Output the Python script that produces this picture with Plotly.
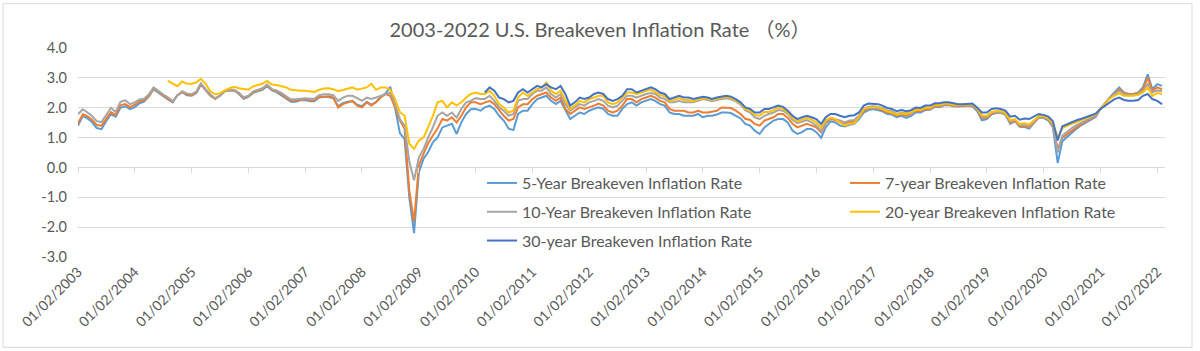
import pandas as pd
import plotly.graph_objects as go

# ---------------- data (monthly readings, first trading days of each month) ----------------
start_month = "2003-01-01"
n_months = 230
dates = pd.date_range(start_month, periods=n_months, freq="MS") + pd.Timedelta(days=1)

series_names = [
    "5-Year Breakeven Inflation Rate",
    "7-year Breakeven Inflation Rate",
    "10-Year Breakeven Inflation Rate",
    "20-year Breakeven Inflation Rate",
    "30-year Breakeven Inflation Rate",
]

be5 = [
    1.40, 1.72, 1.65, 1.52, 1.32, 1.28, 1.55, 1.78, 1.70, 2.00, 2.05, 1.95,   # 2003
    2.02, 2.15, 2.20, 2.38, 2.62, 2.50, 2.40, 2.28, 2.18, 2.42, 2.52, 2.42,   # 2004
    2.40, 2.50, 2.78, 2.58, 2.40, 2.30, 2.40, 2.55, 2.58, 2.58, 2.46, 2.30,   # 2005
    2.36, 2.50, 2.56, 2.60, 2.72, 2.58, 2.52, 2.42, 2.30, 2.20, 2.20, 2.25,   # 2006
    2.26, 2.22, 2.22, 2.34, 2.36, 2.36, 2.32, 2.05, 2.15, 2.20, 2.22, 2.10,   # 2007
    2.05, 2.20, 2.10, 2.20, 2.36, 2.48, 2.70, 2.00, 1.15, 0.95, -1.03, -2.20, # 2008
    -0.16, 0.30, 0.51, 0.84, 1.00, 1.34, 1.40, 1.46, 1.12, 1.51, 1.79, 1.95,  # 2009
    1.96, 1.90, 2.01, 2.07, 1.96, 1.73, 1.57, 1.30, 1.25, 1.79, 1.90, 1.90,   # 2010
    2.12, 2.29, 2.34, 2.40, 2.23, 2.12, 2.23, 1.90, 1.62, 1.73, 1.84, 1.79,   # 2011
    1.90, 1.96, 2.01, 1.96, 1.79, 1.73, 1.73, 1.96, 2.12, 2.18, 2.07, 2.18,   # 2012
    2.23, 2.29, 2.23, 2.12, 2.07, 1.84, 1.79, 1.79, 1.73, 1.73, 1.73, 1.79,   # 2013
    1.68, 1.73, 1.73, 1.77, 1.84, 1.84, 1.82, 1.73, 1.64, 1.46, 1.40, 1.23,   # 2014
    1.12, 1.34, 1.46, 1.57, 1.62, 1.62, 1.51, 1.23, 1.12, 1.18, 1.29, 1.29,   # 2015
    1.18, 0.99, 1.34, 1.54, 1.51, 1.40, 1.37, 1.43, 1.46, 1.62, 1.84, 1.92,   # 2016
    1.96, 1.92, 1.88, 1.79, 1.77, 1.68, 1.73, 1.66, 1.73, 1.84, 1.84, 1.92,   # 2017
    1.93, 2.03, 2.02, 2.08, 2.09, 2.05, 2.04, 2.05, 2.07, 2.05, 1.88, 1.58,   # 2018
    1.62, 1.78, 1.82, 1.84, 1.76, 1.46, 1.55, 1.36, 1.35, 1.30, 1.49, 1.66,   # 2019
    1.66, 1.57, 1.35, 0.15, 0.88, 1.02, 1.18, 1.30, 1.42, 1.51, 1.60, 1.69,   # 2020
    1.96, 2.18, 2.34, 2.51, 2.68, 2.51, 2.46, 2.46, 2.51, 2.68, 3.12, 2.62,   # 2021
    2.79, 2.73,                                                               # 2022
]

be7 = [
    1.48, 1.78, 1.72, 1.60, 1.42, 1.40, 1.62, 1.85, 1.75, 2.08, 2.12, 2.02,
    2.10, 2.22, 2.25, 2.40, 2.65, 2.52, 2.42, 2.30, 2.20, 2.42, 2.52, 2.45,
    2.42, 2.52, 2.80, 2.60, 2.42, 2.30, 2.40, 2.55, 2.58, 2.58, 2.48, 2.32,
    2.38, 2.52, 2.58, 2.62, 2.75, 2.60, 2.55, 2.46, 2.33, 2.24, 2.24, 2.27,
    2.28, 2.25, 2.25, 2.36, 2.38, 2.38, 2.34, 2.01, 2.12, 2.18, 2.23, 2.07,
    2.01, 2.18, 2.07, 2.18, 2.34, 2.46, 2.40, 2.01, 1.57, 1.30, -0.80, -1.82,
    0.07, 0.47, 0.80, 1.07, 1.30, 1.62, 1.57, 1.68, 1.51, 1.73, 2.01, 2.18,
    2.18, 2.12, 2.18, 2.23, 2.12, 1.90, 1.73, 1.57, 1.62, 2.01, 2.12, 2.12,
    2.29, 2.40, 2.46, 2.51, 2.34, 2.23, 2.34, 1.96, 1.79, 1.90, 2.01, 1.96,
    2.01, 2.07, 2.14, 2.07, 1.90, 1.84, 1.90, 2.07, 2.29, 2.29, 2.18, 2.29,
    2.34, 2.40, 2.34, 2.23, 2.18, 1.96, 1.90, 1.90, 1.90, 1.84, 1.84, 1.90,
    1.84, 1.84, 1.88, 1.90, 2.01, 2.01, 1.99, 1.90, 1.79, 1.63, 1.59, 1.46,
    1.40, 1.57, 1.62, 1.68, 1.79, 1.79, 1.66, 1.46, 1.34, 1.40, 1.46, 1.40,
    1.34, 1.18, 1.48, 1.62, 1.59, 1.51, 1.48, 1.51, 1.54, 1.68, 1.90, 1.99,
    1.99, 1.99, 1.92, 1.84, 1.81, 1.73, 1.79, 1.73, 1.81, 1.90, 1.88, 1.96,
    1.95, 2.05, 2.04, 2.10, 2.10, 2.06, 2.05, 2.06, 2.08, 2.07, 1.92, 1.66,
    1.66, 1.81, 1.84, 1.86, 1.78, 1.50, 1.58, 1.38, 1.38, 1.34, 1.51, 1.68,
    1.68, 1.60, 1.38, 0.62, 1.00, 1.12, 1.25, 1.35, 1.45, 1.53, 1.62, 1.72,
    1.96, 2.17, 2.33, 2.46, 2.62, 2.49, 2.45, 2.45, 2.49, 2.62, 3.01, 2.57,
    2.68, 2.62,
]

be10 = [
    1.78, 1.95, 1.85, 1.72, 1.55, 1.52, 1.75, 2.00, 1.85, 2.20, 2.25, 2.12,
    2.18, 2.28, 2.30, 2.45, 2.68, 2.55, 2.45, 2.35, 2.22, 2.40, 2.55, 2.48,
    2.45, 2.55, 2.82, 2.62, 2.45, 2.32, 2.40, 2.55, 2.60, 2.60, 2.50, 2.35,
    2.40, 2.55, 2.60, 2.65, 2.78, 2.62, 2.58, 2.50, 2.38, 2.28, 2.28, 2.30,
    2.32, 2.30, 2.30, 2.42, 2.45, 2.45, 2.42, 2.23, 2.34, 2.40, 2.40, 2.32,
    2.23, 2.34, 2.29, 2.34, 2.40, 2.46, 2.51, 2.12, 1.62, 1.40, 0.18, -0.43,
    0.34, 0.63, 1.00, 1.34, 1.73, 1.84, 1.73, 1.84, 1.67, 1.96, 2.18, 2.23,
    2.32, 2.29, 2.29, 2.40, 2.23, 2.01, 1.90, 1.73, 1.79, 2.23, 2.29, 2.29,
    2.46, 2.57, 2.57, 2.68, 2.46, 2.34, 2.46, 2.12, 1.90, 2.01, 2.12, 2.07,
    2.18, 2.23, 2.29, 2.23, 2.07, 2.01, 2.07, 2.23, 2.40, 2.40, 2.34, 2.40,
    2.46, 2.49, 2.46, 2.34, 2.29, 2.18, 2.18, 2.23, 2.18, 2.18, 2.18, 2.23,
    2.29, 2.26, 2.22, 2.26, 2.28, 2.32, 2.28, 2.21, 2.10, 1.92, 1.84, 1.68,
    1.62, 1.73, 1.79, 1.84, 1.92, 1.90, 1.79, 1.59, 1.48, 1.54, 1.59, 1.51,
    1.40, 1.23, 1.51, 1.66, 1.62, 1.57, 1.51, 1.57, 1.59, 1.73, 1.96, 2.03,
    2.05, 2.03, 1.99, 1.90, 1.88, 1.79, 1.84, 1.81, 1.88, 1.96, 1.92, 2.01,
    1.98, 2.08, 2.07, 2.12, 2.12, 2.08, 2.07, 2.08, 2.10, 2.10, 1.95, 1.72,
    1.70, 1.84, 1.86, 1.88, 1.80, 1.54, 1.60, 1.42, 1.42, 1.38, 1.54, 1.70,
    1.70, 1.62, 1.42, 0.50, 1.07, 1.20, 1.32, 1.42, 1.50, 1.57, 1.65, 1.74,
    1.96, 2.16, 2.32, 2.44, 2.57, 2.46, 2.43, 2.43, 2.46, 2.57, 2.80, 2.51,
    2.58, 2.55,
]

be20 = [None] * 19 + [
    2.90, 2.82, 2.72, 2.88, 2.80,                                             # 2004 Aug-Dec
    2.80, 2.85, 2.97, 2.80, 2.55, 2.45, 2.48, 2.58, 2.65, 2.70, 2.65, 2.62,
    2.60, 2.72, 2.76, 2.80, 2.90, 2.78, 2.76, 2.72, 2.68, 2.60, 2.58, 2.57,
    2.57, 2.55, 2.53, 2.60, 2.64, 2.65, 2.62, 2.55, 2.60, 2.64, 2.68, 2.60,
    2.64, 2.68, 2.80, 2.60, 2.68, 2.68, 2.60, 2.29, 1.85, 1.73, 0.79, 0.62,
    0.90, 1.01, 1.34, 1.73, 2.18, 2.23, 2.01, 2.18, 2.07, 2.18, 2.34, 2.46,
    2.51, 2.46, 2.46, 2.57, 2.40, 2.12, 2.01, 1.84, 1.90, 2.34, 2.51, 2.40,
    2.51, 2.62, 2.68, 2.84, 2.57, 2.46, 2.57, 2.29, 1.96, 2.07, 2.23, 2.18,
    2.29, 2.34, 2.40, 2.40, 2.18, 2.12, 2.18, 2.34, 2.51, 2.51, 2.46, 2.51,
    2.57, 2.60, 2.51, 2.43, 2.38, 2.23, 2.26, 2.32, 2.26, 2.26, 2.22, 2.28,
    2.32, 2.30, 2.26, 2.30, 2.32, 2.36, 2.32, 2.25, 2.14, 1.96, 1.90, 1.76,
    1.73, 1.86, 1.86, 1.92, 2.01, 1.97, 1.84, 1.66, 1.54, 1.60, 1.66, 1.60,
    1.51, 1.34, 1.59, 1.66, 1.62, 1.51, 1.40, 1.46, 1.48, 1.68, 1.96, 2.01,
    2.01, 2.01, 1.96, 1.88, 1.84, 1.77, 1.81, 1.79, 1.84, 1.92, 1.92, 1.99,
    2.00, 2.10, 2.09, 2.14, 2.14, 2.10, 2.09, 2.10, 2.12, 2.12, 1.97, 1.74,
    1.72, 1.86, 1.88, 1.88, 1.82, 1.58, 1.62, 1.46, 1.48, 1.44, 1.58, 1.72,
    1.72, 1.64, 1.48, 1.00, 1.32, 1.40, 1.47, 1.52, 1.58, 1.64, 1.70, 1.78,
    1.96, 2.14, 2.30, 2.40, 2.49, 2.40, 2.40, 2.40, 2.43, 2.51, 2.68, 2.40,
    2.49, 2.46,
]

be30 = [None] * 86 + [
    2.51, 2.68, 2.57, 2.34, 2.29, 2.18, 2.23, 2.51, 2.62, 2.51,               # 2010 Mar-Dec
    2.62, 2.73, 2.68, 2.79, 2.68, 2.62, 2.73, 2.46, 2.07, 2.18, 2.34, 2.29,
    2.34, 2.46, 2.51, 2.46, 2.29, 2.23, 2.29, 2.40, 2.62, 2.62, 2.51, 2.57,
    2.62, 2.68, 2.62, 2.51, 2.46, 2.29, 2.34, 2.40, 2.34, 2.34, 2.29, 2.34,
    2.37, 2.34, 2.29, 2.34, 2.37, 2.40, 2.37, 2.29, 2.18, 2.01, 1.96, 1.84,
    1.84, 1.96, 1.96, 2.01, 2.07, 2.03, 1.90, 1.73, 1.62, 1.68, 1.73, 1.68,
    1.62, 1.46, 1.68, 1.79, 1.79, 1.73, 1.68, 1.73, 1.75, 1.84, 2.07, 2.14,
    2.14, 2.12, 2.07, 1.99, 1.96, 1.88, 1.92, 1.88, 1.92, 2.01, 1.99, 2.07,
    2.07, 2.15, 2.15, 2.18, 2.18, 2.14, 2.12, 2.12, 2.14, 2.14, 2.00, 1.84,
    1.84, 1.96, 1.98, 1.96, 1.90, 1.70, 1.73, 1.60, 1.64, 1.62, 1.71, 1.79,
    1.76, 1.70, 1.55, 0.90, 1.38, 1.45, 1.52, 1.58, 1.63, 1.68, 1.73, 1.80,
    1.96, 2.07, 2.18, 2.29, 2.34, 2.26, 2.23, 2.23, 2.26, 2.40, 2.46, 2.29,
    2.23, 2.12,
]

x_tick_dates = [f"{y}-01-02" for y in range(2003, 2023)]
x_tick_labels = [f"01/02/{y}" for y in range(2003, 2023)]
y_tick_vals = [-3, -2, -1, 0, 1, 2, 3, 4]
y_tick_labels = ["-3.0", "-2.0", "-1.0", "0.0", "1.0", "2.0", "3.0", "4.0"]
x_range = ["2003-01-02", "2022-02-21"]

series_values = [be5, be7, be10, be20, be30]
for v in series_values:
    assert len(v) == n_months, len(v)

# ---------------- styling ----------------
colors = ["#5B9BD5", "#ED7D31", "#A5A5A5", "#FFC000", "#4472C4"]
legend_of = ["legend", "legend2", "legend", "legend2", "legend"]
FONT = "Lato, 'Noto Sans CJK SC', sans-serif"
TXT = "#595959"
GRID = "#D9D9D9"

W, H = 1200, 351
ML, MR, MT, MB = 78, 35, 47.5, 93.7
PW, PH = W - ML - MR, H - MT - MB


def fx(px):
    return (px - ML) / PW


def fy(py):
    return (H - MB - py) / PH


fig = go.Figure()
for name, vals, col, lg in zip(series_names, series_values, colors, legend_of):
    fig.add_trace(go.Scatter(
        x=dates, y=vals, name=name, mode="lines",
        line=dict(color=col, width=2), legend=lg, legendgroup=name,
        connectgaps=False, hoverinfo="x+y+name",
    ))

# tick marks along the zero line (secondary x axis)
fig.add_trace(go.Scatter(x=x_tick_dates, y=[None] * len(x_tick_dates), xaxis="x2",
                         showlegend=False, hoverinfo="skip"))

LEG_FONT = 16
fig.update_layout(
    width=W, height=H,
    margin=dict(l=ML, r=MR, t=MT, b=MB),
    paper_bgcolor="white", plot_bgcolor="white",
    font=dict(family=FONT, color=TXT),
    title=dict(text="2003-2022 U.S. Breakeven Inflation Rate （%）",
               x=0.5, xanchor="center", y=1 - 30 / H, yanchor="middle",
               font=dict(size=20, color=TXT, family=FONT)),
    xaxis=dict(type="date", range=x_range, tickvals=x_tick_dates, ticktext=x_tick_labels,
               tickangle=-45, showgrid=False, zeroline=False, showline=False, ticks="",
               tickfont=dict(size=14, color=TXT), ticklabelstandoff=3),
    xaxis2=dict(type="date", range=x_range, overlaying="x", anchor="free", position=3 / 7,
                side="bottom", tickvals=x_tick_dates, ticks="outside", ticklen=5,
                tickcolor=GRID, tickwidth=1, showticklabels=False, showgrid=False,
                zeroline=False, showline=False),
    yaxis=dict(range=[-3, 4], tickvals=y_tick_vals, ticktext=y_tick_labels,
               showgrid=True, gridcolor=GRID, gridwidth=1, zeroline=False, showline=False,
               ticks="", tickfont=dict(size=14.5, color=TXT), ticklabelstandoff=10),
    legend=dict(x=fx(482), y=fy(166), xanchor="left", yanchor="top", orientation="v",
                traceorder="grouped", tracegroupgap=5, bgcolor="rgba(0,0,0,0)",
                font=dict(size=LEG_FONT, color=TXT, family=FONT)),
    legend2=dict(x=fx(845), y=fy(166), xanchor="left", yanchor="top", orientation="v",
                 traceorder="grouped", tracegroupgap=5, bgcolor="rgba(0,0,0,0)",
                 font=dict(size=LEG_FONT, color=TXT, family=FONT)),
    shapes=[dict(type="rect", xref="paper", yref="paper",
                 x0=fx(3), x1=fx(1192), y0=fy(348), y1=fy(3),
                 line=dict(color=GRID, width=1), fillcolor="rgba(0,0,0,0)", layer="below")],
    showlegend=True,
)

fig.write_html("out.html")
